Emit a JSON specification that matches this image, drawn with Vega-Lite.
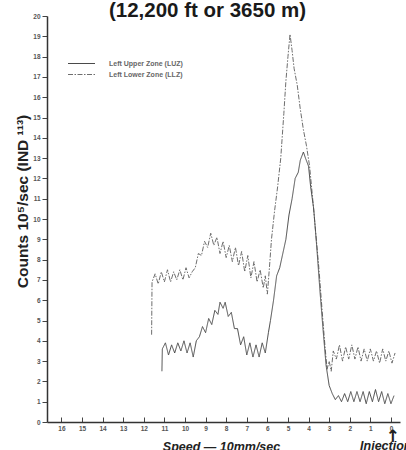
{
  "$schema": "https://vega.github.io/schema/vega-lite/v6.json",
  "width": 353,
  "height": 406,
  "autosize": "none",
  "padding": {"left": 47, "top": 16, "right": 6, "bottom": 28},
  "background": "white",
  "config": {"view": {"stroke": null}, "font": "Liberation Sans"},
  "title": {"text": "(12,200 ft or 3650 m)", "fontSize": 20.5, "fontWeight": "bold", "font": "Liberation Sans", "color": "#1a1a1a", "anchor": "middle", "dx": -16, "dy": 25, "baseline": "alphabetic", "offset": 1},
  "datasets": {
    "curves": [
      {"zone": "Left Lower Zone (LLZ)", "i": 0, "speed": 11.62, "counts": 4.3},
      {"zone": "Left Lower Zone (LLZ)", "i": 1, "speed": 11.6, "counts": 6.9},
      {"zone": "Left Lower Zone (LLZ)", "i": 2, "speed": 11.45, "counts": 7.3},
      {"zone": "Left Lower Zone (LLZ)", "i": 3, "speed": 11.3, "counts": 6.8},
      {"zone": "Left Lower Zone (LLZ)", "i": 4, "speed": 11.15, "counts": 7.4},
      {"zone": "Left Lower Zone (LLZ)", "i": 5, "speed": 11.0, "counts": 6.9},
      {"zone": "Left Lower Zone (LLZ)", "i": 6, "speed": 10.85, "counts": 7.5},
      {"zone": "Left Lower Zone (LLZ)", "i": 7, "speed": 10.7, "counts": 6.9},
      {"zone": "Left Lower Zone (LLZ)", "i": 8, "speed": 10.55, "counts": 7.4},
      {"zone": "Left Lower Zone (LLZ)", "i": 9, "speed": 10.4, "counts": 7.0},
      {"zone": "Left Lower Zone (LLZ)", "i": 10, "speed": 10.25, "counts": 7.5},
      {"zone": "Left Lower Zone (LLZ)", "i": 11, "speed": 10.1, "counts": 7.0},
      {"zone": "Left Lower Zone (LLZ)", "i": 12, "speed": 9.95, "counts": 7.6},
      {"zone": "Left Lower Zone (LLZ)", "i": 13, "speed": 9.8, "counts": 7.1},
      {"zone": "Left Lower Zone (LLZ)", "i": 14, "speed": 9.65, "counts": 7.4},
      {"zone": "Left Lower Zone (LLZ)", "i": 15, "speed": 9.5, "counts": 7.6},
      {"zone": "Left Lower Zone (LLZ)", "i": 16, "speed": 9.35, "counts": 8.3},
      {"zone": "Left Lower Zone (LLZ)", "i": 17, "speed": 9.2, "counts": 8.2},
      {"zone": "Left Lower Zone (LLZ)", "i": 18, "speed": 9.05, "counts": 8.9},
      {"zone": "Left Lower Zone (LLZ)", "i": 19, "speed": 8.9, "counts": 8.6},
      {"zone": "Left Lower Zone (LLZ)", "i": 20, "speed": 8.75, "counts": 9.3},
      {"zone": "Left Lower Zone (LLZ)", "i": 21, "speed": 8.6, "counts": 8.7},
      {"zone": "Left Lower Zone (LLZ)", "i": 22, "speed": 8.45, "counts": 9.1},
      {"zone": "Left Lower Zone (LLZ)", "i": 23, "speed": 8.3, "counts": 8.3},
      {"zone": "Left Lower Zone (LLZ)", "i": 24, "speed": 8.15, "counts": 8.9},
      {"zone": "Left Lower Zone (LLZ)", "i": 25, "speed": 8.0, "counts": 8.1},
      {"zone": "Left Lower Zone (LLZ)", "i": 26, "speed": 7.85, "counts": 8.7},
      {"zone": "Left Lower Zone (LLZ)", "i": 27, "speed": 7.7, "counts": 7.9},
      {"zone": "Left Lower Zone (LLZ)", "i": 28, "speed": 7.55, "counts": 8.6},
      {"zone": "Left Lower Zone (LLZ)", "i": 29, "speed": 7.4, "counts": 7.7},
      {"zone": "Left Lower Zone (LLZ)", "i": 30, "speed": 7.25, "counts": 8.4},
      {"zone": "Left Lower Zone (LLZ)", "i": 31, "speed": 7.1, "counts": 7.4},
      {"zone": "Left Lower Zone (LLZ)", "i": 32, "speed": 6.95, "counts": 8.2},
      {"zone": "Left Lower Zone (LLZ)", "i": 33, "speed": 6.8, "counts": 7.1},
      {"zone": "Left Lower Zone (LLZ)", "i": 34, "speed": 6.65, "counts": 7.9},
      {"zone": "Left Lower Zone (LLZ)", "i": 35, "speed": 6.5, "counts": 6.9},
      {"zone": "Left Lower Zone (LLZ)", "i": 36, "speed": 6.35, "counts": 7.5},
      {"zone": "Left Lower Zone (LLZ)", "i": 37, "speed": 6.2, "counts": 6.6},
      {"zone": "Left Lower Zone (LLZ)", "i": 38, "speed": 6.1, "counts": 7.2},
      {"zone": "Left Lower Zone (LLZ)", "i": 39, "speed": 6.0, "counts": 6.3},
      {"zone": "Left Lower Zone (LLZ)", "i": 40, "speed": 5.9, "counts": 7.6},
      {"zone": "Left Lower Zone (LLZ)", "i": 41, "speed": 5.8, "counts": 9.0},
      {"zone": "Left Lower Zone (LLZ)", "i": 42, "speed": 5.65, "counts": 10.4},
      {"zone": "Left Lower Zone (LLZ)", "i": 43, "speed": 5.5, "counts": 11.6},
      {"zone": "Left Lower Zone (LLZ)", "i": 44, "speed": 5.35, "counts": 13.0},
      {"zone": "Left Lower Zone (LLZ)", "i": 45, "speed": 5.2, "counts": 15.2},
      {"zone": "Left Lower Zone (LLZ)", "i": 46, "speed": 5.1, "counts": 16.8},
      {"zone": "Left Lower Zone (LLZ)", "i": 47, "speed": 5.0, "counts": 18.0},
      {"zone": "Left Lower Zone (LLZ)", "i": 48, "speed": 4.9, "counts": 19.1},
      {"zone": "Left Lower Zone (LLZ)", "i": 49, "speed": 4.8, "counts": 18.3},
      {"zone": "Left Lower Zone (LLZ)", "i": 50, "speed": 4.7, "counts": 17.4},
      {"zone": "Left Lower Zone (LLZ)", "i": 51, "speed": 4.55, "counts": 16.6},
      {"zone": "Left Lower Zone (LLZ)", "i": 52, "speed": 4.4, "counts": 15.4},
      {"zone": "Left Lower Zone (LLZ)", "i": 53, "speed": 4.25, "counts": 14.4},
      {"zone": "Left Lower Zone (LLZ)", "i": 54, "speed": 4.1, "counts": 13.6},
      {"zone": "Left Lower Zone (LLZ)", "i": 55, "speed": 3.95, "counts": 12.6},
      {"zone": "Left Lower Zone (LLZ)", "i": 56, "speed": 3.8, "counts": 11.0},
      {"zone": "Left Lower Zone (LLZ)", "i": 57, "speed": 3.65, "counts": 9.3},
      {"zone": "Left Lower Zone (LLZ)", "i": 58, "speed": 3.5, "counts": 7.6},
      {"zone": "Left Lower Zone (LLZ)", "i": 59, "speed": 3.35, "counts": 5.6},
      {"zone": "Left Lower Zone (LLZ)", "i": 60, "speed": 3.2, "counts": 3.7},
      {"zone": "Left Lower Zone (LLZ)", "i": 61, "speed": 3.1, "counts": 2.6},
      {"zone": "Left Lower Zone (LLZ)", "i": 62, "speed": 3.0, "counts": 3.0},
      {"zone": "Left Lower Zone (LLZ)", "i": 63, "speed": 2.9, "counts": 2.5},
      {"zone": "Left Lower Zone (LLZ)", "i": 64, "speed": 2.8, "counts": 3.5},
      {"zone": "Left Lower Zone (LLZ)", "i": 65, "speed": 2.65, "counts": 3.1},
      {"zone": "Left Lower Zone (LLZ)", "i": 66, "speed": 2.5, "counts": 3.8},
      {"zone": "Left Lower Zone (LLZ)", "i": 67, "speed": 2.35, "counts": 3.0},
      {"zone": "Left Lower Zone (LLZ)", "i": 68, "speed": 2.2, "counts": 3.7},
      {"zone": "Left Lower Zone (LLZ)", "i": 69, "speed": 2.05, "counts": 3.1},
      {"zone": "Left Lower Zone (LLZ)", "i": 70, "speed": 1.9, "counts": 3.8},
      {"zone": "Left Lower Zone (LLZ)", "i": 71, "speed": 1.75, "counts": 3.1},
      {"zone": "Left Lower Zone (LLZ)", "i": 72, "speed": 1.6, "counts": 3.7},
      {"zone": "Left Lower Zone (LLZ)", "i": 73, "speed": 1.45, "counts": 3.0},
      {"zone": "Left Lower Zone (LLZ)", "i": 74, "speed": 1.3, "counts": 3.6},
      {"zone": "Left Lower Zone (LLZ)", "i": 75, "speed": 1.15, "counts": 3.0},
      {"zone": "Left Lower Zone (LLZ)", "i": 76, "speed": 1.0, "counts": 3.6},
      {"zone": "Left Lower Zone (LLZ)", "i": 77, "speed": 0.85, "counts": 3.0},
      {"zone": "Left Lower Zone (LLZ)", "i": 78, "speed": 0.7, "counts": 3.5},
      {"zone": "Left Lower Zone (LLZ)", "i": 79, "speed": 0.55, "counts": 2.9},
      {"zone": "Left Lower Zone (LLZ)", "i": 80, "speed": 0.4, "counts": 3.6},
      {"zone": "Left Lower Zone (LLZ)", "i": 81, "speed": 0.25, "counts": 3.0},
      {"zone": "Left Lower Zone (LLZ)", "i": 82, "speed": 0.1, "counts": 3.5},
      {"zone": "Left Lower Zone (LLZ)", "i": 83, "speed": -0.05, "counts": 2.9},
      {"zone": "Left Lower Zone (LLZ)", "i": 84, "speed": -0.2, "counts": 3.4},
      {"zone": "Left Upper Zone (LUZ)", "i": 0, "speed": 11.12, "counts": 2.5},
      {"zone": "Left Upper Zone (LUZ)", "i": 1, "speed": 11.1, "counts": 3.6},
      {"zone": "Left Upper Zone (LUZ)", "i": 2, "speed": 10.95, "counts": 3.9},
      {"zone": "Left Upper Zone (LUZ)", "i": 3, "speed": 10.8, "counts": 3.3},
      {"zone": "Left Upper Zone (LUZ)", "i": 4, "speed": 10.65, "counts": 3.8},
      {"zone": "Left Upper Zone (LUZ)", "i": 5, "speed": 10.5, "counts": 3.4},
      {"zone": "Left Upper Zone (LUZ)", "i": 6, "speed": 10.35, "counts": 3.9},
      {"zone": "Left Upper Zone (LUZ)", "i": 7, "speed": 10.2, "counts": 3.5},
      {"zone": "Left Upper Zone (LUZ)", "i": 8, "speed": 10.05, "counts": 4.0},
      {"zone": "Left Upper Zone (LUZ)", "i": 9, "speed": 9.9, "counts": 3.4},
      {"zone": "Left Upper Zone (LUZ)", "i": 10, "speed": 9.75, "counts": 3.9},
      {"zone": "Left Upper Zone (LUZ)", "i": 11, "speed": 9.6, "counts": 3.2},
      {"zone": "Left Upper Zone (LUZ)", "i": 12, "speed": 9.45, "counts": 4.0},
      {"zone": "Left Upper Zone (LUZ)", "i": 13, "speed": 9.3, "counts": 4.2},
      {"zone": "Left Upper Zone (LUZ)", "i": 14, "speed": 9.15, "counts": 4.7},
      {"zone": "Left Upper Zone (LUZ)", "i": 15, "speed": 9.0, "counts": 4.4},
      {"zone": "Left Upper Zone (LUZ)", "i": 16, "speed": 8.85, "counts": 5.1},
      {"zone": "Left Upper Zone (LUZ)", "i": 17, "speed": 8.7, "counts": 4.8},
      {"zone": "Left Upper Zone (LUZ)", "i": 18, "speed": 8.55, "counts": 5.5},
      {"zone": "Left Upper Zone (LUZ)", "i": 19, "speed": 8.4, "counts": 5.3},
      {"zone": "Left Upper Zone (LUZ)", "i": 20, "speed": 8.3, "counts": 5.9},
      {"zone": "Left Upper Zone (LUZ)", "i": 21, "speed": 8.15, "counts": 5.6},
      {"zone": "Left Upper Zone (LUZ)", "i": 22, "speed": 8.05, "counts": 5.9},
      {"zone": "Left Upper Zone (LUZ)", "i": 23, "speed": 7.9, "counts": 5.2},
      {"zone": "Left Upper Zone (LUZ)", "i": 24, "speed": 7.75, "counts": 5.4},
      {"zone": "Left Upper Zone (LUZ)", "i": 25, "speed": 7.6, "counts": 4.6},
      {"zone": "Left Upper Zone (LUZ)", "i": 26, "speed": 7.45, "counts": 4.6},
      {"zone": "Left Upper Zone (LUZ)", "i": 27, "speed": 7.3, "counts": 3.8},
      {"zone": "Left Upper Zone (LUZ)", "i": 28, "speed": 7.15, "counts": 4.2},
      {"zone": "Left Upper Zone (LUZ)", "i": 29, "speed": 7.0, "counts": 3.3},
      {"zone": "Left Upper Zone (LUZ)", "i": 30, "speed": 6.85, "counts": 3.9},
      {"zone": "Left Upper Zone (LUZ)", "i": 31, "speed": 6.7, "counts": 3.2},
      {"zone": "Left Upper Zone (LUZ)", "i": 32, "speed": 6.55, "counts": 3.8},
      {"zone": "Left Upper Zone (LUZ)", "i": 33, "speed": 6.4, "counts": 3.2},
      {"zone": "Left Upper Zone (LUZ)", "i": 34, "speed": 6.25, "counts": 3.9},
      {"zone": "Left Upper Zone (LUZ)", "i": 35, "speed": 6.1, "counts": 3.4},
      {"zone": "Left Upper Zone (LUZ)", "i": 36, "speed": 5.95, "counts": 4.4},
      {"zone": "Left Upper Zone (LUZ)", "i": 37, "speed": 5.85, "counts": 5.0},
      {"zone": "Left Upper Zone (LUZ)", "i": 38, "speed": 5.7, "counts": 6.0},
      {"zone": "Left Upper Zone (LUZ)", "i": 39, "speed": 5.55, "counts": 7.2},
      {"zone": "Left Upper Zone (LUZ)", "i": 40, "speed": 5.4, "counts": 7.6},
      {"zone": "Left Upper Zone (LUZ)", "i": 41, "speed": 5.25, "counts": 8.3},
      {"zone": "Left Upper Zone (LUZ)", "i": 42, "speed": 5.1, "counts": 9.0},
      {"zone": "Left Upper Zone (LUZ)", "i": 43, "speed": 4.95, "counts": 10.2},
      {"zone": "Left Upper Zone (LUZ)", "i": 44, "speed": 4.8, "counts": 11.0},
      {"zone": "Left Upper Zone (LUZ)", "i": 45, "speed": 4.65, "counts": 12.0},
      {"zone": "Left Upper Zone (LUZ)", "i": 46, "speed": 4.5, "counts": 12.3},
      {"zone": "Left Upper Zone (LUZ)", "i": 47, "speed": 4.4, "counts": 12.9},
      {"zone": "Left Upper Zone (LUZ)", "i": 48, "speed": 4.25, "counts": 13.3},
      {"zone": "Left Upper Zone (LUZ)", "i": 49, "speed": 4.15, "counts": 13.0},
      {"zone": "Left Upper Zone (LUZ)", "i": 50, "speed": 4.0, "counts": 12.6},
      {"zone": "Left Upper Zone (LUZ)", "i": 51, "speed": 3.9, "counts": 11.6},
      {"zone": "Left Upper Zone (LUZ)", "i": 52, "speed": 3.75, "counts": 10.5},
      {"zone": "Left Upper Zone (LUZ)", "i": 53, "speed": 3.6, "counts": 8.6},
      {"zone": "Left Upper Zone (LUZ)", "i": 54, "speed": 3.45, "counts": 6.5},
      {"zone": "Left Upper Zone (LUZ)", "i": 55, "speed": 3.3, "counts": 4.6},
      {"zone": "Left Upper Zone (LUZ)", "i": 56, "speed": 3.15, "counts": 2.8},
      {"zone": "Left Upper Zone (LUZ)", "i": 57, "speed": 3.0, "counts": 1.8},
      {"zone": "Left Upper Zone (LUZ)", "i": 58, "speed": 2.85, "counts": 1.4},
      {"zone": "Left Upper Zone (LUZ)", "i": 59, "speed": 2.7, "counts": 1.1},
      {"zone": "Left Upper Zone (LUZ)", "i": 60, "speed": 2.55, "counts": 1.3},
      {"zone": "Left Upper Zone (LUZ)", "i": 61, "speed": 2.4, "counts": 1.0},
      {"zone": "Left Upper Zone (LUZ)", "i": 62, "speed": 2.25, "counts": 1.4},
      {"zone": "Left Upper Zone (LUZ)", "i": 63, "speed": 2.1, "counts": 1.0},
      {"zone": "Left Upper Zone (LUZ)", "i": 64, "speed": 1.95, "counts": 1.5},
      {"zone": "Left Upper Zone (LUZ)", "i": 65, "speed": 1.8, "counts": 1.0},
      {"zone": "Left Upper Zone (LUZ)", "i": 66, "speed": 1.65, "counts": 1.5},
      {"zone": "Left Upper Zone (LUZ)", "i": 67, "speed": 1.5, "counts": 1.0},
      {"zone": "Left Upper Zone (LUZ)", "i": 68, "speed": 1.35, "counts": 1.5},
      {"zone": "Left Upper Zone (LUZ)", "i": 69, "speed": 1.2, "counts": 0.9},
      {"zone": "Left Upper Zone (LUZ)", "i": 70, "speed": 1.05, "counts": 1.5},
      {"zone": "Left Upper Zone (LUZ)", "i": 71, "speed": 0.9, "counts": 1.0},
      {"zone": "Left Upper Zone (LUZ)", "i": 72, "speed": 0.75, "counts": 1.6},
      {"zone": "Left Upper Zone (LUZ)", "i": 73, "speed": 0.6, "counts": 1.0},
      {"zone": "Left Upper Zone (LUZ)", "i": 74, "speed": 0.45, "counts": 1.5},
      {"zone": "Left Upper Zone (LUZ)", "i": 75, "speed": 0.3, "counts": 0.9},
      {"zone": "Left Upper Zone (LUZ)", "i": 76, "speed": 0.15, "counts": 1.4},
      {"zone": "Left Upper Zone (LUZ)", "i": 77, "speed": 0.0, "counts": 0.9},
      {"zone": "Left Upper Zone (LUZ)", "i": 78, "speed": -0.15, "counts": 1.3}
    ]
  },
  "layer": [
    {
      "data": {"name": "curves"},
      "mark": {"type": "line", "strokeWidth": 1, "interpolate": "linear"},
      "encoding": {
        "x": {
          "field": "speed", "type": "quantitative",
          "scale": {"domain": [-0.44, 16.7], "reverse": true, "nice": false, "zero": false},
          "axis": {
            "values": [0, 1, 2, 3, 4, 5, 6, 7, 8, 9, 10, 11, 12, 13, 14, 15, 16],
            "labelOverlap": false, "labelFlush": false,
            "grid": false, "domainColor": "#333", "domainWidth": 1.5,
            "tickColor": "#444", "tickSize": -5, "tickWidth": 1,
            "labelFontSize": 6.5, "labelFontWeight": "bold", "labelColor": "#555", "labelPadding": 8,
            "title": "Speed — 10mm/sec", "titleFontSize": 12.5, "titleFontWeight": "bold", "titleFontStyle": "italic",
            "titleColor": "#222", "titleX": 174, "titleY": 28, "titleBaseline": "alphabetic", "titleAnchor": "middle"
          }
        },
        "y": {
          "field": "counts", "type": "quantitative",
          "scale": {"domain": [0, 20], "nice": false, "zero": true},
          "axis": {
            "values": [0, 1, 2, 3, 4, 5, 6, 7, 8, 9, 10, 11, 12, 13, 14, 15, 16, 17, 18, 19, 20],
            "labelOverlap": false, "labelFlush": false,
            "grid": false, "domainColor": "#333", "domainWidth": 1.5,
            "tickColor": "#444", "tickSize": 5, "tickWidth": 1,
            "labelFontSize": 6.5, "labelFontWeight": "bold", "labelColor": "#555", "labelPadding": 2,
            "title": "Counts 10⁵/sec (IND ¹¹³)", "titleFontSize": 15.5, "titleFontWeight": "bold",
            "titleColor": "#222", "titleX": -20, "titleY": 185, "titleBaseline": "alphabetic", "titleAnchor": "middle"
          }
        },
        "order": {"field": "i", "type": "quantitative"},
        "color": {
          "field": "zone", "type": "nominal",
          "scale": {"domain": ["Left Upper Zone (LUZ)", "Left Lower Zone (LLZ)"], "range": ["#4a4a4a", "#6e6e6e"]},
          "legend": {
            "orient": "none", "legendX": 29, "legendY": 42, "title": null,
            "symbolType": "M-2.7,0L2.7,0", "symbolSize": 100, "symbolStrokeWidth": 1,
            "labelFontSize": 7, "labelFontWeight": "bold", "labelColor": "#666", "labelOffset": 22,
            "rowPadding": 2
          }
        },
        "strokeDash": {
          "field": "zone", "type": "nominal",
          "scale": {"domain": ["Left Upper Zone (LUZ)", "Left Lower Zone (LLZ)"], "range": [[1, 0], [5, 1.5, 1.5, 1.5]]},
          "legend": null
        }
      }
    },
    {
      "data": {"values": [{}]},
      "mark": {"type": "text", "text": "↑", "fontSize": 17, "fontWeight": "bold", "color": "#222", "baseline": "middle", "align": "center", "font": "DejaVu Sans"},
      "encoding": {
        "x": {"datum": -0.1, "type": "quantitative",
          "axis": {
            "values": [0, 1, 2, 3, 4, 5, 6, 7, 8, 9, 10, 11, 12, 13, 14, 15, 16],
            "labelOverlap": false, "labelFlush": false,
            "grid": false, "domainColor": "#333", "domainWidth": 1.5,
            "tickColor": "#444", "tickSize": -5, "tickWidth": 1,
            "labelFontSize": 6.5, "labelFontWeight": "bold", "labelColor": "#555", "labelPadding": 8,
            "title": "Speed — 10mm/sec", "titleFontSize": 12.5, "titleFontWeight": "bold", "titleFontStyle": "italic",
            "titleColor": "#222", "titleX": 174, "titleY": 28, "titleBaseline": "alphabetic", "titleAnchor": "middle"
          }},
        "y": {"datum": -0.75, "type": "quantitative",
          "axis": {
            "values": [0, 1, 2, 3, 4, 5, 6, 7, 8, 9, 10, 11, 12, 13, 14, 15, 16, 17, 18, 19, 20],
            "labelOverlap": false, "labelFlush": false,
            "grid": false, "domainColor": "#333", "domainWidth": 1.5,
            "tickColor": "#444", "tickSize": 5, "tickWidth": 1,
            "labelFontSize": 6.5, "labelFontWeight": "bold", "labelColor": "#555", "labelPadding": 2,
            "title": "Counts 10⁵/sec (IND ¹¹³)", "titleFontSize": 15.5, "titleFontWeight": "bold",
            "titleColor": "#222", "titleX": -20, "titleY": 185, "titleBaseline": "alphabetic", "titleAnchor": "middle"
          }}
      }
    },
    {
      "data": {"values": [{}]},
      "mark": {"type": "text", "text": "Injection", "fontSize": 12.5, "fontWeight": "bold", "fontStyle": "italic", "color": "#222", "baseline": "alphabetic", "align": "left"},
      "encoding": {
        "x": {"datum": 1.5, "type": "quantitative",
          "axis": {
            "values": [0, 1, 2, 3, 4, 5, 6, 7, 8, 9, 10, 11, 12, 13, 14, 15, 16],
            "labelOverlap": false, "labelFlush": false,
            "grid": false, "domainColor": "#333", "domainWidth": 1.5,
            "tickColor": "#444", "tickSize": -5, "tickWidth": 1,
            "labelFontSize": 6.5, "labelFontWeight": "bold", "labelColor": "#555", "labelPadding": 8,
            "title": "Speed — 10mm/sec", "titleFontSize": 12.5, "titleFontWeight": "bold", "titleFontStyle": "italic",
            "titleColor": "#222", "titleX": 174, "titleY": 28, "titleBaseline": "alphabetic", "titleAnchor": "middle"
          }},
        "y": {"datum": -1.38, "type": "quantitative",
          "axis": {
            "values": [0, 1, 2, 3, 4, 5, 6, 7, 8, 9, 10, 11, 12, 13, 14, 15, 16, 17, 18, 19, 20],
            "labelOverlap": false, "labelFlush": false,
            "grid": false, "domainColor": "#333", "domainWidth": 1.5,
            "tickColor": "#444", "tickSize": 5, "tickWidth": 1,
            "labelFontSize": 6.5, "labelFontWeight": "bold", "labelColor": "#555", "labelPadding": 2,
            "title": "Counts 10⁵/sec (IND ¹¹³)", "titleFontSize": 15.5, "titleFontWeight": "bold",
            "titleColor": "#222", "titleX": -20, "titleY": 185, "titleBaseline": "alphabetic", "titleAnchor": "middle"
          }}
      }
    }
  ]
}
